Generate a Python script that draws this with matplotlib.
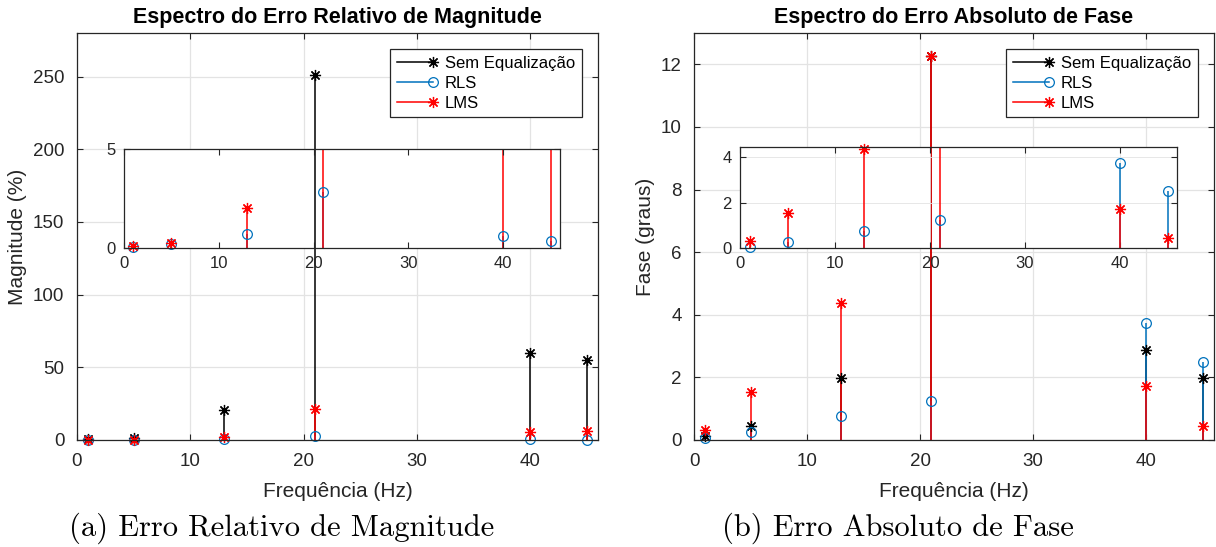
import numpy as np
import matplotlib.pyplot as plt
from matplotlib.lines import Line2D
from matplotlib.patches import Rectangle
from matplotlib.legend_handler import HandlerLine2D

plt.rcParams['font.family'] = ['Liberation Sans', 'DejaVu Sans']

# Frequencies of the harmonics (Hz)
freq = [1, 5, 13, 21, 40, 45]

# Relative magnitude error (%)
mag_sem = [0.4, 1.5, 20.5, 251.0, 60.0, 55.0]
mag_rls = [0.05, 0.22, 0.72, 2.85, 0.62, 0.33]
mag_lms = [0.1, 0.25, 2.0, 21.3, 5.7, 6.4]

# Absolute phase error (graus)
fase_sem = [0.12, 0.46, 1.99, 12.28, 2.86, 1.99]
fase_rls = [0.05, 0.27, 0.77, 1.23, 3.73, 2.49]
fase_lms = [0.32, 1.53, 4.37, 12.28, 1.73, 0.46]

labels = ['Sem Equalização', 'RLS', 'LMS']

BLACK = '#000000'
BLUE = '#0072BD'
RED = '#FF0000'
AXC = '#262626'
ASTER = (8, 2, 0)


def stems(ax, x, y, color, marker, ms, top=None):
    m, s, b = ax.stem(x, y, basefmt=' ')
    b.set_visible(False)
    s.set_color(color)
    s.set_linewidth(1.1)
    s.set_zorder(1.2)
    m.set(marker=marker, linestyle='none', markerfacecolor='none',
          markeredgecolor=color, markersize=ms, markeredgewidth=0.9)
    m.set_clip_on(False)
    if top is not None:
        yy = np.array(y, dtype=float)
        m.set_ydata(np.where(yy <= top, yy, np.nan))


def style(ax, fs, grid=True, glw=0.9):
    for sp in ax.spines.values():
        sp.set_color(AXC)
        sp.set_linewidth(0.9)
    ax.tick_params(direction='in', top=True, right=True, length=4.5,
                   width=0.8, color=AXC, labelcolor=AXC, labelsize=fs, pad=9)
    if grid:
        ax.grid(True, color='#e3e3e3', linewidth=glw)
        ax.set_axisbelow(True)


class StemLegend(HandlerLine2D):
    def create_artists(self, *args, **kwargs):
        arts = super().create_artists(*args, **kwargs)
        for a in arts:
            a.set_markevery([2])
        return arts


fig = plt.figure(figsize=(12.16, 5.47), dpi=100)
W, H = 1216.0, 547.0


def px(l, t, r, b):
    return [l / W, 1 - b / H, (r - l) / W, (b - t) / H]


panels = [
    dict(main=px(77, 33, 598, 440), inset=px(124, 149, 560, 248),
         data=(mag_sem, mag_rls, mag_lms), ylim=280, yticks=np.arange(0, 251, 50),
         itop=5, iticks=[0, 5], igrid=False,
         title='Espectro do Erro Relativo de Magnitude', ylabel='Magnitude (%)',
         cap='(a) Erro Relativo de Magnitude', capx=282),
    dict(main=px(694, 33, 1214, 440), inset=px(740, 147, 1177, 248),
         data=(fase_sem, fase_rls, fase_lms), ylim=13, yticks=np.arange(0, 13, 2),
         itop=4.45, iticks=[0, 2, 4], igrid=True,
         title='Espectro do Erro Absoluto de Fase', ylabel='Fase (graus)',
         cap='(b) Erro Absoluto de Fase', capx=898),
]

for p in panels:
    sem, rls, lms = p['data']
    ax = fig.add_axes(p['main'])
    style(ax, 13.5)
    stems(ax, freq, sem, BLACK, ASTER, 8)
    stems(ax, freq, rls, BLUE, 'o', 7)
    stems(ax, freq, lms, RED, ASTER, 8)
    ax.set_xlim(0, 46)
    ax.set_ylim(0, p['ylim'])
    ax.set_xticks([0, 10, 20, 30, 40])
    ax.set_yticks(p['yticks'])
    ax.set_title(p['title'], fontsize=15.5, fontweight='bold', color='k', pad=7)
    ax.set_xlabel('Frequência (Hz)', fontsize=15, color=AXC, labelpad=9)
    ax.set_ylabel(p['ylabel'], fontsize=15, color=AXC, labelpad=4)

    # white area under the inset, above the grid (main stems still show through it)
    ax.add_patch(Rectangle(p['inset'][:2], p['inset'][2], p['inset'][3],
                           transform=fig.transFigure, facecolor='white',
                           edgecolor='none', zorder=0.8))

    handles = [Line2D([], [], color=c, marker=mk, markerfacecolor='none',
                      markeredgecolor=c, markersize=ms, lw=1.1, mew=0.9)
               for c, mk, ms in [(BLACK, ASTER, 8), (BLUE, 'o', 7), (RED, ASTER, 8)]]
    leg = ax.legend(handles, labels, loc='upper right',
                    bbox_to_anchor=(1 - 16 / 521, 1 - 16 / 407), borderaxespad=0,
                    fontsize=12, handlelength=2.2, handletextpad=0.7,
                    labelspacing=0.3, borderpad=0.4, fancybox=False,
                    framealpha=1, edgecolor=AXC,
                    handler_map={Line2D: StemLegend()})
    leg.get_frame().set_linewidth(0.9)

    ins = fig.add_axes(p['inset'])
    ins.set_facecolor('none')
    style(ins, 12, grid=p['igrid'], glw=0.6)
    ins.tick_params(pad=6)
    stems(ins, freq, rls, BLUE, 'o', 7, top=p['itop'])
    stems(ins, freq, lms, RED, ASTER, 8, top=p['itop'])
    ins.set_xlim(0, 46)
    ins.set_ylim(0, p['itop'])
    ins.set_xticks([0, 10, 20, 30, 40])
    ins.set_yticks(p['iticks'])

    fig.text(p['capx'] / W, 1 - 528 / H, p['cap'], ha='center', va='center',
             fontsize=22, family='cmr10')

fig.savefig('out.png', dpi=100)
